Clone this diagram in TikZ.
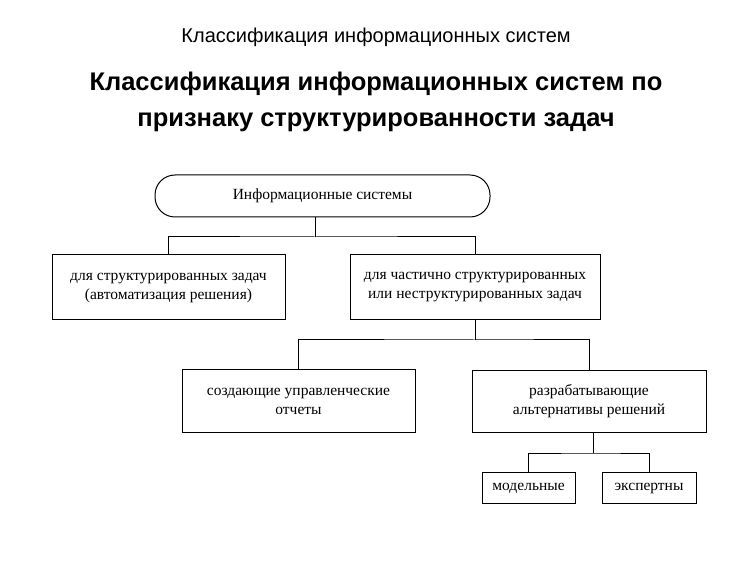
\documentclass[tikz,border=0pt]{standalone}
\usepackage{fontspec}
\setmainfont{Liberation Serif}
\newfontfamily\hsans{Liberation Sans}
\begin{document}
\begin{tikzpicture}[x=1pt,y=-1pt,
 bx/.style={draw,line width=1pt,inner sep=0pt,align=center,font=\fontsize{15.5}{19}\selectfont},
 ln/.style={line width=1pt}]
\useasboundingbox[fill=white] (0,0) rectangle (750,561);
\node[font=\hsans\fontsize{20}{24}\selectfont] (t1) at (376,37) {Классификация информационных систем};
\node[font=\hsans\bfseries\fontsize{25.5}{36}\selectfont,align=center] (t2) at (376,102) {Классификация информационных систем по\\признаку структурированности задач};
\node[bx,rounded corners=20pt,minimum width=335pt,minimum height=42pt] (root) at (322.5,196) {Информационные системы};
\node[bx,minimum width=233pt,minimum height=65pt] (a) at (168.5,287.5) {для структурированных задач\\(автоматизация решения)};
\node[bx,minimum width=250pt,minimum height=65pt] (b) at (475,287.5) {для частично структурированных\\или неструктурированных задач};
\node[bx,minimum width=233pt,minimum height=62pt] (c) at (298.5,401) {создающие управленческие\\отчеты};
\node[bx,minimum width=234pt,minimum height=61pt] (d) at (589,401.5) {разрабатывающие\\альтернативы решений};
\node[bx,minimum width=93pt,minimum height=31pt] (e) at (528.5,488) {модельные};
\node[bx,minimum width=94pt,minimum height=31pt] (f) at (649,488) {экспертны};
\coordinate (j1) at (315,237);
\draw[ln] (root.south -| j1) -- (j1);
\draw[ln] (a.north) |- (j1) -| (b.north);
\coordinate (j2) at (475,340);
\draw[ln] (b.south) -- (j2);
\draw[ln] (c.north) |- (j2) -| (d.north);
\coordinate (j3) at (593,453);
\draw[ln] (d.south -| j3) -- (j3);
\draw[ln] (e.north) |- (j3) -| (f.north);
\end{tikzpicture}
\end{document}
